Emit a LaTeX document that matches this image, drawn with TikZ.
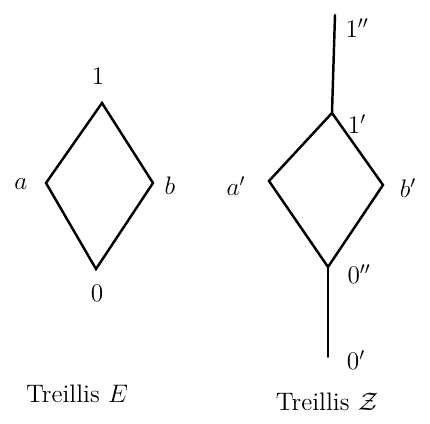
\documentclass[tikz,border=0pt]{standalone}
\usepackage{amsmath, amssymb}
\usepackage{tikz}
\usetikzlibrary{calc, positioning}

\begin{document}
\begin{tikzpicture}[x=0.2mm, y=-0.2mm, font=\Large]
  \useasboundingbox (0,0) rectangle (430,424);
  \tikzset{edge/.style={line width=1.4pt, line cap=round}}

  % lattice E
  \coordinate (top) at (102,103);
  \coordinate (a) at (46,183);
  \coordinate (b) at (153,183);
  \coordinate (bot) at (96,269);
  \node (ltop) at (98,76) {$1$};
  \node (la) at (21,184) {$a$};
  \node (lb) at (170,186) {$b$};
  \node (lbot) at (97,293) {$0$};

  \draw[edge] (top) -- (a) -- (bot) -- (b) -- cycle;

  % lattice Z
  \coordinate (tt) at (335,15);
  \coordinate (t) at (332,113);
  \coordinate (a2) at (269,181);
  \coordinate (b2) at (383,185);
  \coordinate (bb) at (328,267);
  \coordinate (b0) at (328,357);
  \node (ltt) at (357,28) {$1''$};
  \node (lt) at (357,124) {$1'$};
  \node (la2) at (236,186) {$a'$};
  \node (lb2) at (408,188) {$b'$};
  \node (lbb) at (359,274) {$0''$};
  \node (lb0) at (356,360) {$0'$};

  \draw[edge] (tt) -- (t);
  \draw[edge] (t) -- (a2) -- (bb) -- (b2) -- cycle;
  \draw[edge, line width=1pt] (bb) -- (b0);

  % captions
  \node (capE) at (77,394) {Treillis $E$};
  \node (capZ) at (327,402) {Treillis $\mathcal{Z}$};
\end{tikzpicture}
\end{document}
